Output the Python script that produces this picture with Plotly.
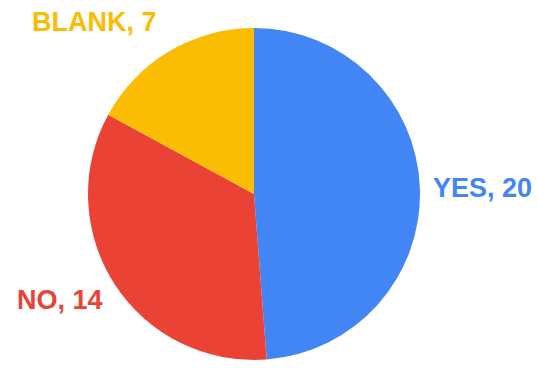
import plotly.graph_objects as go

labels = ["YES", "NO", "BLANK"]
values = [20, 14, 7]
colors = ["#4285F4", "#EA4335", "#FBBC04"]

W, H = 538, 368
cx, cy, r = 254, 194, 166

fig = go.Figure(go.Pie(
    labels=labels, values=values, sort=False, direction="clockwise", rotation=0,
    marker=dict(colors=colors, line=dict(width=0)),
    textinfo="none", hoverinfo="label+value", showlegend=False,
    domain=dict(x=[(cx - r) / W, (cx + r) / W], y=[(H - cy - r) / H, (H - cy + r) / H]),
))

label_pos = [(482, 188), (60, 300), (94, 22)]
for lab, val, col, (x, y) in zip(labels, values, colors, label_pos):
    fig.add_annotation(x=x / W, y=1 - y / H, xref="paper", yref="paper",
                       text=f"<b>{lab}, {val}</b>", showarrow=False,
                       font=dict(family="Liberation Sans, Arial", size=27, color=col),
                       xanchor="center", yanchor="middle")

fig.update_layout(width=W, height=H, margin=dict(l=0, r=0, t=0, b=0),
                  paper_bgcolor="white", plot_bgcolor="white")
fig.write_html("out.html", config={"displayModeBar": False},
               post_script="document.body.style.margin='0';document.body.style.overflow='hidden';")
